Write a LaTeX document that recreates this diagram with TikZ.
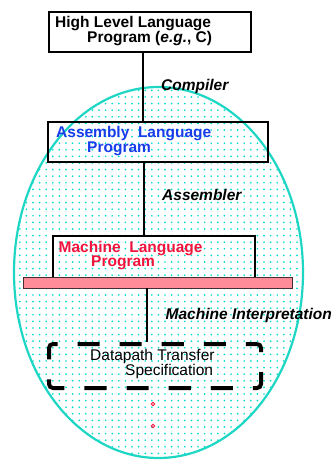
\documentclass[tikz,border=0pt]{standalone}
\usepackage{fontspec}
\setmainfont{Liberation Sans}
\usetikzlibrary{patterns.meta}
\definecolor{rimteal}{RGB}{30,214,196}
\definecolor{dotteal}{RGB}{0,220,205}
\definecolor{asmblue}{RGB}{25,60,235}
\definecolor{mlred}{RGB}{240,20,60}
\definecolor{barpink}{RGB}{255,140,152}
\definecolor{barrim}{RGB}{70,45,50}
\begin{document}
\begin{tikzpicture}[x=1pt,y=-1pt,
  lbl/.style={anchor=base west, inner sep=0pt, font=\fontsize{15.5}{18}\selectfont\bfseries},
  slbl/.style={lbl, font=\fontsize{15.5}{18}\selectfont\bfseries\itshape},
  plbl/.style={anchor=base west, inner sep=0pt, font=\fontsize{15.5}{18}\selectfont},
  box/.style={draw, line width=2pt, inner sep=0pt},
  conn/.style={draw, line width=1.9pt},
  redring/.style={circle, draw=mlred, line width=0.8pt, minimum size=3.6pt, inner sep=0pt}
]
\useasboundingbox (0,0) rectangle (335,460);

% dotted ellipse behind everything
\fill[white] (158.5,272.5) ellipse [x radius=144.5pt, y radius=185.5pt];
\fill[pattern={Dots[distance=6.6pt, radius=0.95pt]}, pattern color=dotteal]
  (158.5,272.5) ellipse [x radius=144.5pt, y radius=185.5pt];
\draw[rimteal, line width=2.2pt] (158.5,272.5) ellipse [x radius=144.5pt, y radius=185.5pt];

% boxes
\node[box, minimum width=202pt, minimum height=40pt] (hll) at (150,32) {};
\node[box, minimum width=220pt, minimum height=40pt] (asm) at (158,142) {};
\node[box, minimum width=202pt, minimum height=47pt] (mlp) at (154,259.5) {};
\node[draw, line width=4pt, dash pattern=on 22.1pt off 20pt, dash phase=11pt,
      rounded corners=4pt, minimum width=212pt, minimum height=44pt,
      inner sep=0pt] (dp) at (155,366) {};

% connectors
\draw[conn] ([xshift=-7pt]hll.south) -- ([xshift=-7pt]hll.south |- asm.north);
\draw[conn] ([xshift=-14pt]asm.south) -- ([xshift=-14pt]asm.south |- mlp.north);
\node[draw=barrim, fill=barpink, line width=0.8pt, minimum width=269pt,
      minimum height=11pt, inner sep=0pt] (bar) at (157.5,282.5) {};
\draw[conn] ([xshift=-10.5pt]bar.south) -- ([xshift=-10.5pt]bar.south |- dp.north);

% box texts
\node[lbl] (hllA) at (55,27.5) {High Level Language};
\node[lbl] (hllB) at (87,42) {Program (\textit{e.g.}, C)};
\node[lbl, asmblue] (asmA) at (56,137) {Assembly\ \ Language};
\node[lbl, asmblue] (asmB) at (87,152) {Program};
\node[lbl, mlred] (mlA) at (58.5,252) {Machine\ \ Language};
\node[lbl, mlred] (mlB) at (91,266) {Program};
\node[plbl] (dpA) at (90,360) {Datapath Transfer};
\node[plbl] (dpB) at (125,375) {Specification};

% step labels
\node[slbl] (comp) at (161,90) {Compiler};
\node[slbl] (asmr) at (162,200) {Assembler};
\node[slbl] (mint) at (165.5,319) {Machine Interpretation};

% continuation marks
\node[redring] (dotA) at (153,404) {};
\node[redring] (dotB) at (153,426) {};
\end{tikzpicture}
\end{document}
